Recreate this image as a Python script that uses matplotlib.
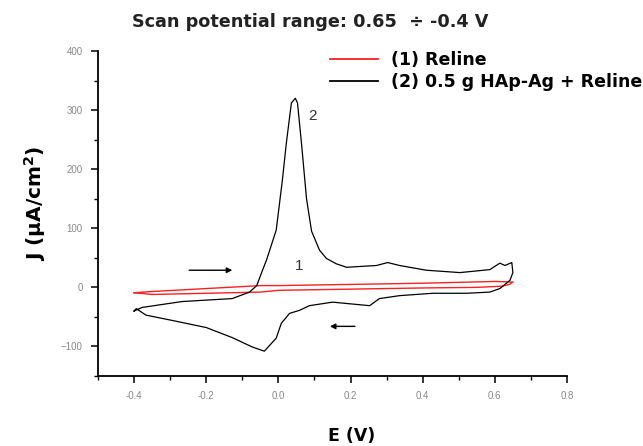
import numpy as np
import matplotlib
matplotlib.use('Agg')
import matplotlib.pyplot as plt
from matplotlib.ticker import MultipleLocator

plt.rcParams['font.family'] = ['Liberation Sans', 'DejaVu Sans']
plt.rcParams['mathtext.fontset'] = 'custom'
plt.rcParams['mathtext.rm'] = 'DejaVu Sans:bold'
plt.rcParams['mathtext.it'] = 'DejaVu Sans:bold'
plt.rcParams['mathtext.bf'] = 'DejaVu Sans:bold'

# (1) Reline - closed loop, forward then reverse
reline_E = [-0.40, -0.35, -0.20, -0.05, 0.00, 0.20, 0.40, 0.60, 0.65,
            0.64, 0.62, 0.55, 0.40, 0.20, 0.00, -0.05, -0.20, -0.35, -0.40]
reline_J = [-9, -7, -2, 3, 3, 5, 7, 10, 9,
            5, 2, 0, -1, -3, -5, -8, -10, -12, -9]

# (2) 0.5 g HAp-Ag + Reline - forward (anodic) then reverse (cathodic)
hap_E = [-0.40, -0.378, -0.267, -0.128, -0.08, -0.06, -0.044, -0.033, -0.006,
         0.011, 0.022, 0.036, 0.047, 0.053, 0.064, 0.078, 0.092, 0.114, 0.133,
         0.160, 0.189, 0.272, 0.303, 0.336, 0.41, 0.503, 0.586, 0.614, 0.628,
         0.647, 0.650, 0.642, 0.614, 0.586, 0.522, 0.428, 0.336, 0.28, 0.253,
         0.15, 0.086, 0.058, 0.031, 0.008, -0.006, -0.039, -0.072, -0.128,
         -0.20, -0.294, -0.367, -0.394, -0.40]
hap_J = [-40, -34, -24, -19, -8, 3, 29, 46, 97,
         181, 244, 312, 320, 312, 244, 150, 95, 63, 49,
         40, 34, 37, 42, 37, 29, 25, 30, 41, 37,
         42, 25, 12, -2, -8, -10, -10, -14, -19, -31,
         -25, -31, -39, -44, -61, -86, -108, -101, -85,
         -68, -56, -47, -36, -40]

fig = plt.figure(figsize=(6.43, 4.46), dpi=100)
ax = fig.add_axes([98/643, 70/446, 469/643, 325/446])

ax.plot(reline_E, reline_J, color='#ff2020', lw=1.0, label='(1) Reline')
ax.plot(hap_E, hap_J, color='black', lw=0.9, label='(2) 0.5 g HAp-Ag + Reline')

ax.set_xlim(-0.5, 0.8)
ax.set_ylim(-150, 400)
ax.xaxis.set_minor_locator(MultipleLocator(0.1))
ax.yaxis.set_minor_locator(MultipleLocator(50))
ax.set_xticks([-0.4, -0.2, 0.0, 0.2, 0.4, 0.6, 0.8])
ax.set_xticklabels(['-0.4', '-0.2', '0.0', '0.2', '0.4', '0.6', '0.8'])
ax.set_yticks([-100, 0, 100, 200, 300, 400])

for s in ['top', 'right']:
    ax.spines[s].set_visible(False)
for s in ['left', 'bottom']:
    ax.spines[s].set_linewidth(1.3)
ax.tick_params(which='major', direction='out', length=5, width=1.1,
               labelsize=7, labelcolor='#888888', pad=6)
ax.tick_params(which='minor', direction='out', length=3, width=1.0)

bold = {'family': 'DejaVu Sans', 'weight': 'bold'}

# text labels
fig.text(310/643, 1 - 22/446, 'Scan potential range: 0.65  \u00f7 -0.4 V',
         ha='center', va='center', fontsize=12.7, color='#222222', **bold)
fig.text(352/643, 10/446, 'E (V)', ha='center', va='center', fontsize=12.5,
         **bold)
fig.text(35/643, 1 - 203/446, r'J ($\mu$A/cm$^{2}$)', ha='center',
         va='center', fontsize=14.5, rotation=90, **bold)

ax.text(0.083, 290, '2', fontsize=11, color='#333333', va='center')
ax.text(0.045, 36, '1', fontsize=11, color='#333333', va='center')

ax.annotate('', xy=(-0.12, 29), xytext=(-0.255, 29),
            arrowprops=dict(arrowstyle='-|>', color='black', lw=1.0,
                            mutation_scale=8))
ax.annotate('', xy=(0.135, -66), xytext=(0.22, -66),
            arrowprops=dict(arrowstyle='-|>', color='black', lw=1.0,
                            mutation_scale=8))

leg = ax.legend(loc='upper left', bbox_to_anchor=((330 - 98) / 469, 1.0),
                frameon=False, prop={**bold, 'size': 12.5},
                handlelength=2.75, handletextpad=0.75, labelspacing=0.25,
                borderpad=0, borderaxespad=0)
for h in leg.legend_handles:
    h.set_linewidth(1.3)

fig.savefig('out.png', dpi=100)
